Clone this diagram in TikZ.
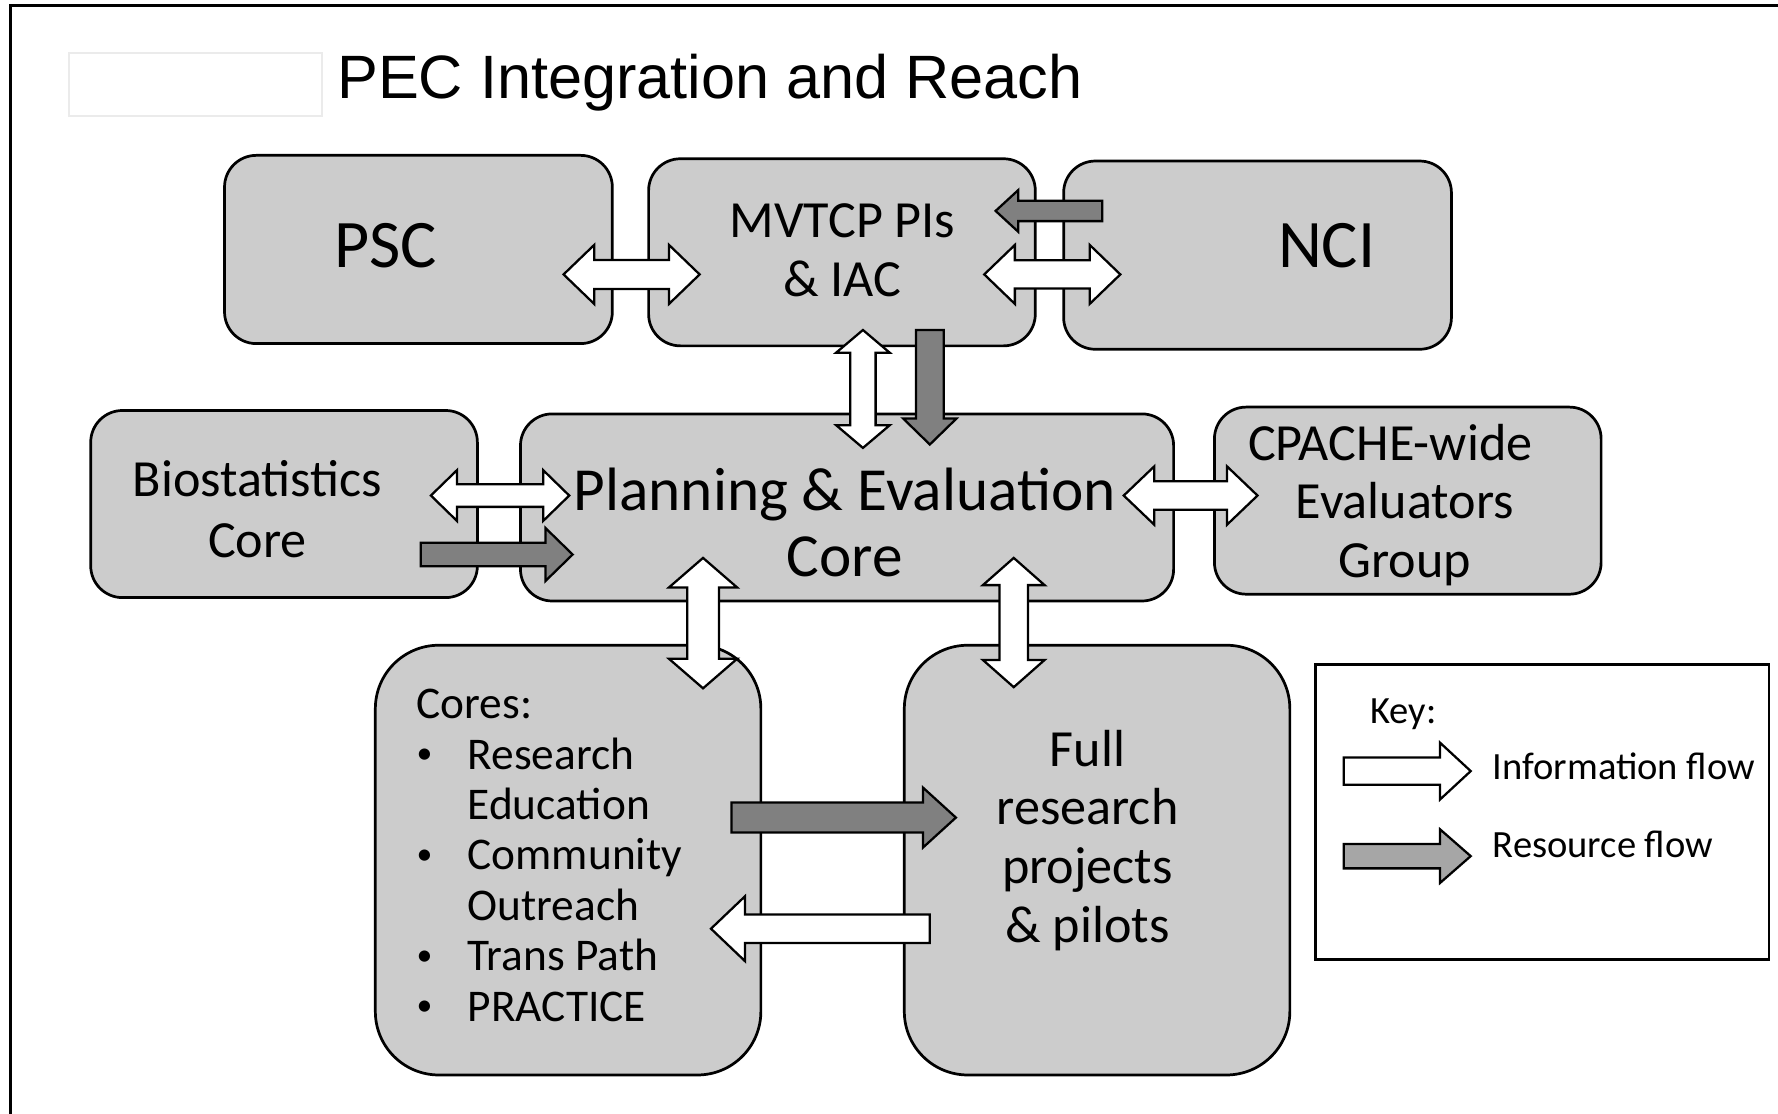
\documentclass[tikz,border=0pt]{standalone}
\usepackage{fontspec}
\setmainfont{Carlito}
\newfontfamily\headfont{Liberation Sans}
\usetikzlibrary{calc}
\definecolor{BoxGray}{HTML}{CCCCCC}
\definecolor{FlowGray}{HTML}{808080}
\definecolor{KeyGray}{HTML}{A6A6A6}
\definecolor{EdgeGray}{HTML}{EBEBEB}
\newcommand{\coredot}{\raisebox{0.12em}{\scalebox{0.7}{\textbullet}}}

\begin{document}
\begin{tikzpicture}[
    x=0.5pt, y=-0.5pt,
    box/.style={draw=black, line width=1.2pt, fill=BoxGray, rounded corners=14pt, inner sep=0pt},
    tallbox/.style={box, rounded corners=28pt, minimum width=170pt, minimum height=189.5pt},
    sz/.code args={#1/#2/#3}{\def\flowS{#1}\def\flowH{#2}\def\flowL{#3}},
    flow/.style={draw=black, line width=1pt, line join=miter},
    info/.style={flow, fill=white},
    res/.style={flow, fill=FlowGray},
    oneway/.style={to path={
        let \p1=(\tikztostart), \p2=(\tikztotarget),
            \n1={atan2(\y2-\y1,\x2-\x1)}, \n2={veclen(\x2-\x1,\y2-\y1)} in
        {[shift={(\p1)}, rotate=\n1]
          (0pt,\flowS) -- ({\n2*1pt-\flowL},\flowS) -- ({\n2*1pt-\flowL},\flowH)
          -- ({\n2*1pt},0pt) -- ({\n2*1pt-\flowL},-\flowH)
          -- ({\n2*1pt-\flowL},-\flowS) -- (0pt,-\flowS) -- cycle}}},
    twoway/.style={to path={
        let \p1=(\tikztostart), \p2=(\tikztotarget),
            \n1={atan2(\y2-\y1,\x2-\x1)}, \n2={veclen(\x2-\x1,\y2-\y1)} in
        {[shift={(\p1)}, rotate=\n1]
          (0pt,0pt) -- (\flowL,\flowH) -- (\flowL,\flowS)
          -- ({\n2*1pt-\flowL},\flowS) -- ({\n2*1pt-\flowL},\flowH)
          -- ({\n2*1pt},0pt) -- ({\n2*1pt-\flowL},-\flowH)
          -- ({\n2*1pt-\flowL},-\flowS) -- (\flowL,-\flowS)
          -- (\flowL,-\flowH) -- cycle}}},
    big/.style={font=\fontsize{30}{36}\selectfont},
    mid/.style={font=\fontsize{23}{26}\selectfont, align=center},
    keytxt/.style={font=\fontsize{17}{20}\selectfont, anchor=base west, inner sep=0pt}
]
    \useasboundingbox (0,0) rectangle (1568,982);

    % outer frame (only top and left edges fall inside the page)
    \draw[line width=1.2pt] (9,1100) -- (9,5) -- (1700,5);

    % title
    \draw[EdgeGray, line width=0.8pt] (61,47) rectangle (284,102);
    \node[font=\headfont\fontsize{27}{32}\selectfont, anchor=base west, inner sep=0pt]
        (title) at (297,87) {PEC Integration and Reach};

    % top row
    \node[box, minimum width=171pt, minimum height=83pt] (psc) at (369,220) {};
    \node[box, minimum width=170.5pt, minimum height=82.5pt] (mvtcp) at (742.5,222.5) {};
    \node[box, minimum width=171pt, minimum height=83pt] (nci) at (1109,225) {};
    \node[big] (psc-txt) at (340,217) {PSC};
    \node[mid] (mvtcp-txt) at (743,221) {MVTCP PIs\\\& IAC};
    \node[big] (nci-txt) at (1170,217) {NCI};

    % middle row
    \node[box, minimum width=170.5pt, minimum height=82.5pt] (biostat) at (250.5,444.5) {};
    \node[box, minimum width=288pt, minimum height=82.5pt] (pec) at (747,447.5) {};
    \node[box, minimum width=170.5pt, minimum height=82.5pt] (cpache) at (1241.5,441.5) {};
    \node[mid, font=\fontsize{23}{26.5}\selectfont] (biostat-txt) at (227,449) {Biostatistics\\Core};
    \node[align=center, font=\fontsize{27}{29}\selectfont] (pec-txt) at (745,461) {Planning \& Evaluation\\Core};
    \node[mid, font=\fontsize{23}{25.8}\selectfont] (cpache-txt) at (1239,445)
        {\hspace*{-13pt}CPACHE-wide\\Evaluators\\Group};

    % bottom row
    \node[tallbox] (cores) at (501,758.5) {};
    \node[tallbox] (projects) at (967.5,758.5) {};
    \node[font=\fontsize{20}{22.2}\selectfont, anchor=base west, inner sep=0pt] (cores-txt) at (367,634)
        {\begin{tabular}[t]{@{}p{22.5pt}@{}l@{}}
            \multicolumn{2}{@{}l@{}}{Cores:}\\
            \coredot & Research\\
             & Education\\
            \coredot & Community\\
             & Outreach\\
            \coredot & Trans Path\\
            \coredot & PRACTICE
         \end{tabular}};
    \node[mid, font=\fontsize{23}{25.85}\selectfont] (projects-txt) at (959,741)
        {Full\\research\\projects\\\& pilots};

    % key
    \node[draw=black, line width=1.2pt, fill=white, minimum width=200pt, minimum height=130pt,
          inner sep=0pt] (key) at (1360,716) {};
    \node[keytxt] (key-txt) at (1208,638) {Key:};
    \node[keytxt] (info-txt) at (1316,687) {Information flow};
    \node[keytxt] (res-txt) at (1316,756) {Resource flow};

    % arrow end points
    \coordinate (pm1) at (497,242);   \coordinate (pm2) at (617,242);
    \coordinate (mn1) at (868,242);   \coordinate (mn2) at (988,242);
    \coordinate (nm1) at (972,186);   \coordinate (nm2) at (878,186);
    \coordinate (mp1) at (761,291);   \coordinate (mp2) at (761,395);
    \coordinate (mr1) at (820,291);   \coordinate (mr2) at (820,392);
    \coordinate (bp1) at (380,437);   \coordinate (bp2) at (502,437);
    \coordinate (br1) at (371,489);   \coordinate (br2) at (505,489);
    \coordinate (pc1) at (991,437);   \coordinate (pc2) at (1109,437);
    \coordinate (pk1) at (620,492);   \coordinate (pk2) at (620,607);
    \coordinate (pf1) at (894,492);   \coordinate (pf2) at (894,606);
    \coordinate (kf1) at (645,721);   \coordinate (kf2) at (843,721);
    \coordinate (fk1) at (820,819);   \coordinate (fk2) at (627,819);
    \coordinate (ki1) at (1185,680);  \coordinate (ki2) at (1297,680);
    \coordinate (kr1) at (1185,755);  \coordinate (kr2) at (1297,755);

    % information flows
    \draw[info, sz=6.4pt/13pt/13.5pt] (pm1) to[twoway] (pm2);
    \draw[info, sz=6.2pt/13pt/13.5pt] (mn1) to[twoway] (mn2);
    \draw[info, sz=5.6pt/11.8pt/10pt] (mp1) to[twoway] (mp2);
    \draw[info, sz=5pt/11.2pt/11.5pt] (bp1) to[twoway] (bp2);
    \draw[info, sz=6.3pt/12.9pt/13.5pt] (pc1) to[twoway] (pc2);
    \draw[info, sz=7pt/15pt/13pt] (pk1) to[twoway] (pk2);
    \draw[info, sz=6.3pt/13.6pt/12pt] (pf1) to[twoway] (pf2);
    \draw[info, sz=6.3pt/14.3pt/15pt] (fk1) to[oneway] (fk2);

    % resource flows
    \draw[res, sz=4.5pt/9.2pt/10pt] (nm1) to[oneway] (nm2);
    \draw[res, sz=6.1pt/11.8pt/11.5pt] (mr1) to[oneway] (mr2);
    \draw[res, sz=5.2pt/11.7pt/12pt] (br1) to[oneway] (br2);
    \draw[res, sz=6.6pt/13.2pt/14.5pt] (kf1) to[oneway] (kf2);

    % key arrows
    \draw[info, sz=6pt/12.5pt/13.5pt] (ki1) to[oneway] (ki2);
    \draw[flow, fill=KeyGray, sz=5.4pt/11.8pt/13.5pt] (kr1) to[oneway] (kr2);
\end{tikzpicture}
\end{document}
